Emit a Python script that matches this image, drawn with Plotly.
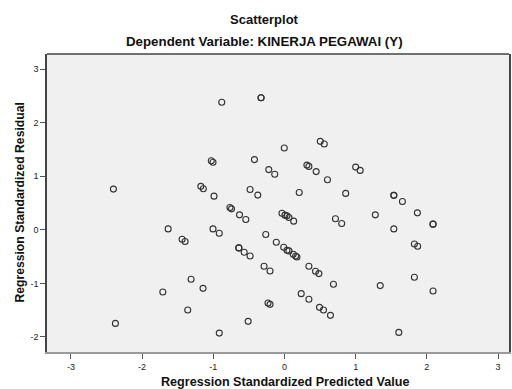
import plotly.graph_objects as go

# Regression standardized predicted values (x) and residuals (y)
pred = [-2.403, -1.175, -1.140, -0.881, -0.329, -0.329, -0.003, 0.503, 0.559, -1.028,
        -1.004, -0.422, -0.221, -0.137, 0.315, 0.343, 0.445, 0.604, 1.000, 1.063,
        -0.990, -0.483, -0.375, 0.207, 0.860, 1.536, 1.536, 1.657, -1.634, -1.438,
        -1.396, -1.312, -1.709, -1.359, -2.375, -1.144, -0.766, -0.744, -0.632, -0.543,
        -1.004, -0.916, -0.035, 0.007, 0.035, 0.063, 0.129, 0.716, 0.804, -0.263,
        -0.115, -0.011, 0.035, 0.063, 0.123, 0.157, 0.175, -0.641, -0.641, -0.566,
        -0.483, -0.287, -0.203, 0.343, 0.436, 0.483, 0.688, 0.235, 0.343, -0.231,
        -0.203, 0.492, 0.548, 0.646, -0.510, -0.916, 1.276, 1.867, 1.536, 2.087,
        2.087, 1.825, 1.871, 1.825, 1.345, 2.087, 1.606]
resid = [0.759, 0.811, 0.765, 2.379, 2.465, 2.465, 1.525, 1.650, 1.600, 1.288,
         1.260, 1.310, 1.123, 1.036, 1.207, 1.183, 1.086, 0.933, 1.170, 1.108,
         0.628, 0.753, 0.647, 0.697, 0.679, 0.643, 0.643, 0.529, 0.017, -0.176,
         -0.219, -0.923, -1.161, -1.497, -1.746, -1.092, 0.417, 0.391, 0.279, 0.193,
         0.017, -0.064, 0.310, 0.273, 0.260, 0.230, 0.161, 0.207, 0.118, -0.088,
         -0.232, -0.325, -0.381, -0.394, -0.456, -0.488, -0.507, -0.338, -0.338, -0.419,
         -0.488, -0.680, -0.768, -0.680, -0.774, -0.817, -1.017, -1.191, -1.297, -1.366,
         -1.391, -1.447, -1.497, -1.596, -1.708, -1.927, 0.279, 0.316, 0.017, 0.105,
         0.105, -0.264, -0.307, -0.886, -1.041, -1.142, -1.914]

x_ticks = [-3, -2, -1, 0, 1, 2, 3]
x_tick_labels = ["-3", "-2", "-1", "0", "1", "2", "3"]
y_ticks = [-2, -1, 0, 1, 2, 3]
y_tick_labels = ["-2", "-1", "0", "1", "2", "3"]

title = "Scatterplot"
subtitle = "Dependent Variable: KINERJA PEGAWAI (Y)"
x_title = "Regression Standardized Predicted Value"
y_title = "Regression Standardized Residual"

FONT = "Liberation Sans, Arial, sans-serif"

fig = go.Figure()
fig.add_trace(go.Scatter(
    x=pred, y=resid, mode="markers",
    marker=dict(symbol="circle-open", size=6, color="#333333", line=dict(width=1.1)),
    showlegend=False, hoverinfo="skip",
))

fig.update_layout(
    width=512, height=389,
    margin=dict(l=47, r=1, t=54, b=37),
    paper_bgcolor="white",
    plot_bgcolor="#f0f0f0",
    font=dict(family=FONT, color="#222222", size=9),
    xaxis=dict(
        range=[-3.336, 3.154], tickvals=x_ticks, ticktext=x_tick_labels,
        showgrid=False, zeroline=False, showline=True, linecolor="#999999", linewidth=1.5,
        ticks="outside", ticklen=5, tickcolor="#555555", tickwidth=1,
        tickfont=dict(size=9, family=FONT, color="#222222"),
    ),
    yaxis=dict(
        range=[-2.28, 3.28], tickvals=y_ticks, ticktext=y_tick_labels,
        showgrid=False, zeroline=False, showline=True, linecolor="#444444", linewidth=1.5,
        mirror=True,
        ticks="outside", ticklen=5, tickcolor="#555555", tickwidth=1,
        tickfont=dict(size=9, family=FONT, color="#222222"),
    ),
    shapes=[dict(type="line", xref="paper", yref="paper", x0=0, x1=1, y0=1, y1=1,
                 line=dict(color="#444444", width=1.5))],
    annotations=[
        dict(text="<b>%s</b>" % title, xref="paper", yref="paper", x=(265 - 47) / 464,
             y=1 + (54 - 19) / 298, xanchor="center", yanchor="middle", showarrow=False,
             font=dict(size=13, family=FONT, color="#111111")),
        dict(text="<b>%s</b>" % subtitle, xref="paper", yref="paper", x=(265 - 47) / 464,
             y=1 + (54 - 41) / 298, xanchor="center", yanchor="middle", showarrow=False,
             font=dict(size=13.3, family=FONT, color="#111111")),
        dict(text="<b>%s</b>" % x_title, xref="paper", yref="paper", x=(286 - 47) / 464,
             y=-(381.5 - 352) / 298, xanchor="center", yanchor="middle", showarrow=False,
             font=dict(size=12.6, family=FONT, color="#111111")),
        dict(text="<b>%s</b>" % y_title, xref="paper", yref="paper", x=-(47 - 19) / 464,
             y=(352 - 202.5) / 298, xanchor="center", yanchor="middle", showarrow=False,
             textangle=-90, font=dict(size=12.2, family=FONT, color="#111111")),
    ],
)

fig.write_html("out.html")
